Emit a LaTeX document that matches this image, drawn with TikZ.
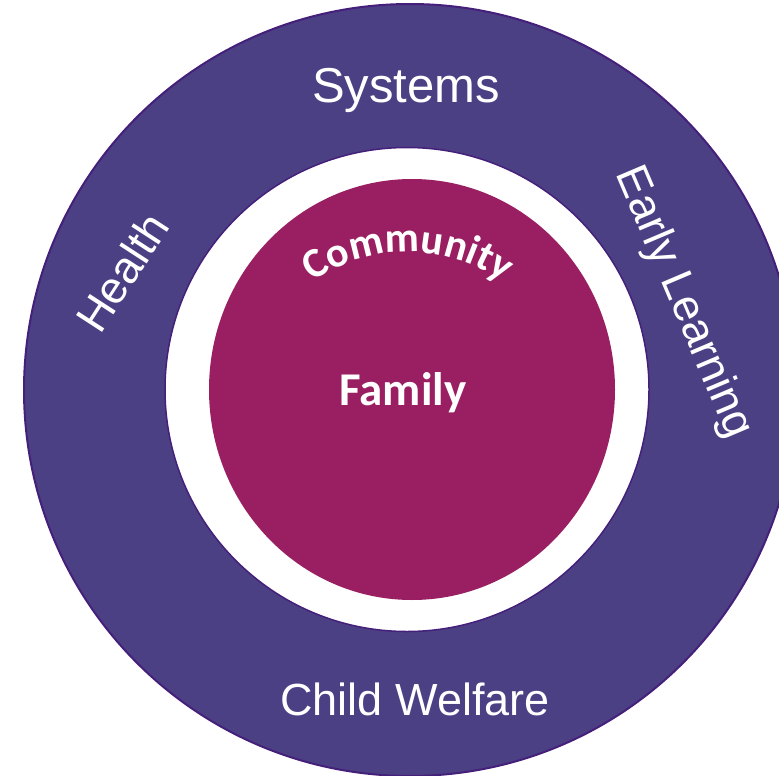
\documentclass[tikz,border=0pt]{standalone}
\usepackage{fontspec}
\setmainfont{Liberation Sans}
\newfontfamily\calib{Carlito}
\usetikzlibrary{decorations.text,shapes.geometric}
\definecolor{ringpurple}{HTML}{4B4084}
\definecolor{edgepurple}{HTML}{45207A}
\definecolor{magentafill}{HTML}{9A1E62}
\tikzset{
  ringlabel/.style={text=white, font=\fontsize{45}{50}\selectfont, inner sep=0pt},
  innerlabel/.style={text=white, font=\calib\bfseries\fontsize{47}{50}\selectfont, inner sep=0pt}
}
\begin{document}
\begin{tikzpicture}[x=1pt,y=1pt]
\useasboundingbox (0,0) rectangle (779,-776);
\begin{scope}
\clip (0,0) rectangle (779,-776);
\node[circle, fill=ringpurple, draw=edgepurple, line width=2pt, minimum size=772pt, inner sep=0pt] (outer) at (410,-390) {};
\end{scope}
\node[circle, fill=white, draw=edgepurple, line width=1.5pt, minimum size=484pt, inner sep=0pt] (white) at (407,-389.5) {};
\node[ellipse, fill=magentafill, minimum width=406pt, minimum height=421pt, inner sep=0pt] (core) at (412,-389.5) {};
\node[ringlabel, anchor=base, font=\fontsize{49}{52}\selectfont] (systems) at (406,-102) {Systems};
\node[ringlabel, anchor=base] (welfare) at (415,-715) {Child Welfare};
\node[ringlabel, rotate=57] (health) at (122,-272) {Health};
\node[ringlabel, rotate=-67] (early) at (683,-303) {Early Learning};
\node[innerlabel, anchor=base] (family) at (403,-405) {Family};
\path[decorate, decoration={text along path, text align=center, text={|\calib\bfseries\fontsize{42}{44}\selectfont\color{white}|Community}}]
  (408,-417) ++(130:165) arc[start angle=130, end angle=50, radius=165];
\end{tikzpicture}
\end{document}
